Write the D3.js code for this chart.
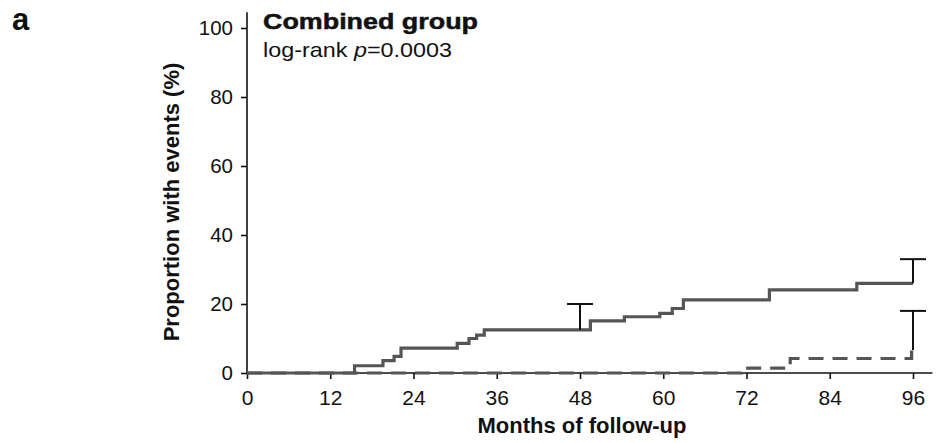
<!DOCTYPE html>
<html>
<head>
<meta charset="utf-8">
<script src="https://cdn.jsdelivr.net/npm/d3@7/dist/d3.min.js"></script>
<style>
  html, body { margin: 0; padding: 0; background: #fff; }
  svg { display: block; }
  text { font-family: "Liberation Sans", Arial, Helvetica, sans-serif; fill: #111; }
</style>
</head>
<body>
<svg id="chart" width="946" height="443"></svg>
<script>
// Cumulative event curves (months of follow-up, % with events)
const combinedMonths  = [0, 15.5, 19.6, 21.2, 22.2, 30.3, 32.0, 33.1, 34.2, 49.5, 54.4, 59.5, 61.3, 62.9, 75.3, 87.9, 96];
const combinedPercent = [0, 2.1, 3.6, 4.8, 7.2, 8.6, 10.0, 11.0, 12.5, 15.1, 16.3, 17.3, 18.7, 21.2, 24.1, 26.0, 26.0];
const controlMonths   = [0, 71.3, 78.3, 95.8, 96];
const controlPercent  = [0, 1.4, 4.2, 8.7, 8.7];

// Upper confidence limits drawn as capped bars
const errMonths = [48, 96, 96];
const errLow    = [12.5, 26.0, 6.7];
const errHigh   = [20.0, 33.0, 18.0];

const xTicks = [0, 12, 24, 36, 48, 60, 72, 84, 96];
const yTicks = [0, 20, 40, 60, 80, 100];

const svg = d3.select("#chart");

const x = d3.scaleLinear().domain([0, 96]).range([247, 913]);
const y = d3.scaleLinear().domain([0, 100]).range([373, 28]);

// Axes
const xAxis = svg.append("g").attr("transform", `translate(0,${y(0)})`)
  .call(d3.axisBottom(x).tickValues(xTicks).tickSize(6).tickPadding(11).tickSizeOuter(0));
xAxis.select(".domain").attr("d", `M${x(0)},0H${x(98.8)}`);
xAxis.selectAll(".tick text").style("font-size", "21px");

const yAxis = svg.append("g").attr("transform", `translate(${x(0)},0)`)
  .call(d3.axisLeft(y).tickValues(yTicks).tickSize(6).tickPadding(8).tickSizeOuter(0));
yAxis.select(".domain").attr("d", `M0,${y(0)}V${y(104.6)}`);
yAxis.selectAll(".tick text").style("font-size", "20.5px");

svg.selectAll(".domain, .tick line").attr("stroke", "#111").attr("stroke-width", 1.6);
svg.selectAll(".tick text").attr("fill", "#111");

// Step curves
const line = d3.line().x(d => x(d[0])).y(d => y(d[1])).curve(d3.curveStepAfter);
const control = d3.zip(controlMonths, controlPercent);
const combined = d3.zip(combinedMonths, combinedPercent);

svg.append("path").datum(control).attr("d", line)
  .attr("fill", "none").attr("stroke", "#555").attr("stroke-width", 3.2)
  .attr("stroke-dasharray", "15,9");

svg.append("path").datum(combined).attr("d", line)
  .attr("fill", "none").attr("stroke", "#555").attr("stroke-width", 3.2);

// Error bars
const eb = svg.append("g").attr("stroke", "#111").attr("stroke-width", 2);
errMonths.forEach((m, i) => {
  eb.append("line").attr("x1", x(m)).attr("x2", x(m)).attr("y1", y(errLow[i])).attr("y2", y(errHigh[i]));
  eb.append("line").attr("x1", x(m) - 13).attr("x2", x(m) + 13).attr("y1", y(errHigh[i])).attr("y2", y(errHigh[i]));
});

// Labels
svg.append("text").attr("x", 12).attr("y", 30)
  .style("font-size", "31px").style("font-weight", "bold").text("a");

svg.append("text").attr("x", 263).attr("y", 28.5)
  .attr("textLength", 215).attr("lengthAdjust", "spacingAndGlyphs")
  .style("font-size", "22.5px").style("font-weight", "bold")
  .attr("stroke", "#111").attr("stroke-width", 0.5)
  .text("Combined group");

const sub = svg.append("text").attr("x", 263).attr("y", 56.5)
  .attr("textLength", 189).attr("lengthAdjust", "spacingAndGlyphs")
  .style("font-size", "21px");
sub.append("tspan").text("log-rank ");
sub.append("tspan").style("font-style", "italic").text("p");
sub.append("tspan").text("=0.0003");

svg.append("text").attr("transform", `translate(179,202) rotate(-90)`)
  .attr("text-anchor", "middle").style("font-size", "22px").style("font-weight", "bold")
  .text("Proportion with events (%)");

svg.append("text").attr("x", 582).attr("y", 433).attr("text-anchor", "middle")
  .style("font-size", "22px").style("font-weight", "bold").text("Months of follow-up");
</script>
</body>
</html>
